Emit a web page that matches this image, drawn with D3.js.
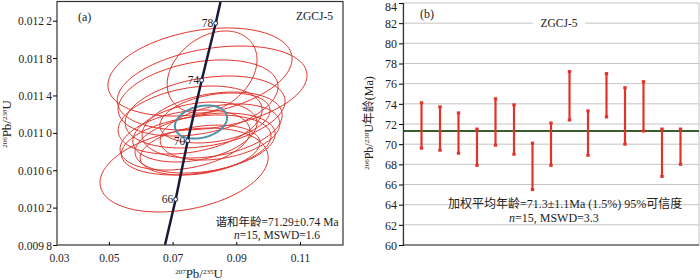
<!DOCTYPE html>
<html>
<head>
<meta charset="utf-8">
<script src="https://cdn.jsdelivr.net/npm/d3@7"></script>
<style>
  body { margin: 0; background: #fff; }
  text { font-family: "Liberation Serif", "Noto Sans CJK SC", serif; fill: #222; }
</style>
</head>
<body>
<script>
const width = 700, height = 280;

// ---- panel (a): concordia data ----
// error ellipses: centre, half width / height (data units)
const ellX  = [0.0786, 0.0824, 0.0824, 0.0780, 0.0802, 0.0755, 0.0824, 0.0770, 0.0849, 0.0739, 0.0802, 0.0786, 0.0833, 0.0736, 0.0774];
const ellY  = [0.011651, 0.011651, 0.011480, 0.011373, 0.011223, 0.011137, 0.011084, 0.011009, 0.011009, 0.010923, 0.010891, 0.010816, 0.011159, 0.010602, 0.010870];
const ellSx = [0.0289, 0.0141, 0.0298, 0.0251, 0.0251, 0.0226, 0.0220, 0.0195, 0.0188, 0.0204, 0.0220, 0.0188, 0.0173, 0.0264, 0.0235];
const ellSy = [0.000471, 0.000439, 0.000449, 0.000407, 0.000385, 0.000364, 0.000353, 0.000321, 0.000300, 0.000321, 0.000321, 0.000267, 0.000267, 0.000449, 0.000321];
const ellRho = 0.3;
// mean ellipse
const meanEll = { x: 0.0789, y: 0.011116, sx: 0.0082, sy: 0.000177 };
// concordia curve and age marks
const concX = [0.0676, 0.07097, 0.07474, 0.07913, 0.08353, 0.08503];
const concY = [0.0098, 0.010289, 0.010916, 0.011562, 0.012172, 0.0124];
const markAge = [66, 70, 74, 78];
const markX = [0.07097, 0.07474, 0.07913, 0.08353];
const markY = [0.010289, 0.010916, 0.011562, 0.012172];
const aYTicks = [0.0098, 0.0102, 0.0106, 0.0110, 0.0114, 0.0118, 0.0122];
const aXTicks = [0.0337, 0.05, 0.07, 0.09, 0.11];

// ---- panel (b): weighted mean ages ----
const spotNo  = [1, 2, 3, 4, 5, 6, 7, 8, 9, 10, 11, 12, 13, 14, 15];
const ageHigh = [74.1, 73.7, 73.1, 71.5, 74.5, 73.9, 70.1, 72.1, 77.2, 73.3, 77.0, 75.6, 76.2, 71.5, 71.5];
const ageLow  = [69.6, 69.4, 69.1, 67.9, 69.9, 69.0, 65.5, 67.9, 72.4, 68.9, 72.7, 70.0, 71.3, 66.8, 68.0];
const meanAge = 71.3;
const bYTicks = d3.range(60, 85, 2);

const svg = d3.select('body').append('svg')
    .attr('width', width)
    .attr('height', height);

const red = '#e2332b';

// ================= panel (a) =================
const xA = d3.scaleLinear().domain([0.0337, 0.1235]).range([57, 343]);
const yA = d3.scaleLinear().domain([0.0098, 0.0124]).range([245, 2]);

svg.append('defs').append('clipPath').attr('id', 'clipA')
    .append('rect').attr('x', 57).attr('y', 2).attr('width', 286).attr('height', 243);

const ellipsePath = (cx, cy, sx, sy, rho) => {
    const pts = d3.range(0, 2 * Math.PI + 0.01, Math.PI / 60).map(t => [
        xA(cx + sx * Math.cos(t)),
        yA(cy + sy * (rho * Math.cos(t) + Math.sqrt(1 - rho * rho) * Math.sin(t)))
    ]);
    return d3.line()(pts) + 'Z';
};

const plotA = svg.append('g').attr('clip-path', 'url(#clipA)');

plotA.selectAll('.ell')
    .data(ellX)
    .enter()
    .append('path')
    .attr('class', 'ell')
    .attr('d', (d, i) => ellipsePath(ellX[i], ellY[i], ellSx[i], ellSy[i], ellRho))
    .attr('fill', 'none')
    .attr('stroke', red)
    .attr('stroke-width', 1);

plotA.append('path')
    .attr('d', ellipsePath(meanEll.x, meanEll.y, meanEll.sx, meanEll.sy, 0.25))
    .attr('fill', 'none')
    .attr('stroke', '#4f93ab')
    .attr('stroke-width', 2);

plotA.append('path')
    .attr('d', d3.line().x((d, i) => xA(concX[i])).y((d, i) => yA(concY[i]))(concX))
    .attr('fill', 'none')
    .attr('stroke', '#1c1838')
    .attr('stroke-width', 2.5);

plotA.selectAll('.mark')
    .data(markAge)
    .enter()
    .append('circle')
    .attr('cx', (d, i) => xA(markX[i]))
    .attr('cy', (d, i) => yA(markY[i]))
    .attr('r', 2)
    .attr('fill', '#fff')
    .attr('stroke', '#1c1838')
    .attr('stroke-width', 1);

plotA.selectAll('.markLabel')
    .data(markAge)
    .enter()
    .append('text')
    .attr('x', (d, i) => xA(markX[i]) - 2.5)
    .attr('y', (d, i) => yA(markY[i]) + 4)
    .attr('text-anchor', 'end')
    .style('font-size', '11.5px')
    .text(d => d);

// frame
svg.append('rect')
    .attr('x', 57).attr('y', 1.5).attr('width', 286).attr('height', 243.5)
    .attr('fill', 'none').attr('stroke', '#333').attr('stroke-width', 1.2);

const fmtA = d => { const s = d3.format('.4f')(d); return s.slice(0, 5) + '\u2009' + s.slice(5); };
const yAxisA = svg.append('g')
    .attr('transform', 'translate(57,0)')
    .call(d3.axisLeft(yA).tickValues(aYTicks).tickSize(4).tickFormat(fmtA));
yAxisA.select('.domain').remove();
yAxisA.selectAll('text').style('font-size', '11.5px').attr('x', -5).attr('dy', '0.35em');

const xAxisA = svg.append('g')
    .attr('transform', 'translate(0,245)')
    .call(d3.axisBottom(xA).tickValues(aXTicks).tickSize(-3)
        .tickFormat(d => d < 0.04 ? '0.03' : d3.format('.2f')(d)));
xAxisA.select('.domain').remove();
xAxisA.selectAll('text').style('font-size', '11.5px').attr('y', 9).attr('dy', '0.71em');
xAxisA.selectAll('.tick').filter(d => d < 0.04).select('line').remove();
xAxisA.selectAll('.tick').filter(d => d < 0.04).select('text').attr('x', 2);

svg.append('text').attr('x', 78).attr('y', 21).style('font-size', '12px').text('(a)');
svg.append('text').attr('x', 333).attr('y', 20).attr('text-anchor', 'end').style('font-size', '11.5px').text('ZGCJ-5');

const resultA = svg.append('g').style('font-size', '11.5px');
resultA.append('text').attr('x', 277).attr('y', 226).attr('text-anchor', 'middle').text('谐和年龄=71.29±0.74 Ma');
const nA = resultA.append('text').attr('x', 277).attr('y', 239).attr('text-anchor', 'middle');
nA.append('tspan').style('font-style', 'italic').text('n');
nA.append('tspan').text('=15, MSWD=1.6');

// axis titles (a)
const yTitleA = svg.append('text')
    .attr('transform', 'translate(11,124) rotate(-90)')
    .attr('text-anchor', 'middle')
    .style('font-size', '13px');
yTitleA.append('tspan').attr('baseline-shift', 'super').style('font-size', '7px').text('206');
yTitleA.append('tspan').text('Pb/');
yTitleA.append('tspan').attr('baseline-shift', 'super').style('font-size', '7px').text('238');
yTitleA.append('tspan').text('U');

const xTitleA = svg.append('text')
    .attr('x', 199).attr('y', 278)
    .attr('text-anchor', 'middle')
    .style('font-size', '13px');
xTitleA.append('tspan').attr('baseline-shift', 'super').style('font-size', '7px').text('207');
xTitleA.append('tspan').text('Pb/');
xTitleA.append('tspan').attr('baseline-shift', 'super').style('font-size', '7px').text('235');
xTitleA.append('tspan').text('U');

// ================= panel (b) =================
const xB = d3.scaleLinear().domain([0, 16]).range([403, 699]);
const yB = d3.scaleLinear().domain([60, 84]).range([245, 3]);

svg.append('g').selectAll('line')
    .data(bYTicks.filter(d => d > 60 && d < 84))
    .enter()
    .append('line')
    .attr('x1', 403).attr('x2', 699)
    .attr('y1', d => yB(d)).attr('y2', d => yB(d))
    .attr('stroke', '#c4c4c4').attr('stroke-width', 1);

svg.append('rect')
    .attr('x', 403).attr('y', yB(84)).attr('width', 296).attr('height', yB(60) - yB(84))
    .attr('fill', 'none').attr('stroke', '#c4c4c4').attr('stroke-width', 1);

// label over the grid line
svg.append('rect').attr('x', 533).attr('y', 16).attr('width', 52).attr('height', 14).attr('fill', '#fff');
svg.append('text').attr('x', 559).attr('y', 27).attr('text-anchor', 'middle').style('font-size', '11.5px').text('ZGCJ-5');
svg.append('text').attr('x', 420).attr('y', 18).style('font-size', '12px').text('(b)');

svg.append('line')
    .attr('x1', 403).attr('x2', 699)
    .attr('y1', yB(meanAge)).attr('y2', yB(meanAge))
    .attr('stroke', '#3b5f2c').attr('stroke-width', 2);

const bars = svg.append('g');
bars.selectAll('.bar')
    .data(spotNo)
    .enter()
    .append('line')
    .attr('x1', d => xB(d)).attr('x2', d => xB(d))
    .attr('y1', (d, i) => yB(ageHigh[i])).attr('y2', (d, i) => yB(ageLow[i]))
    .attr('stroke', red).attr('stroke-width', 2.2);
bars.selectAll('.capHi')
    .data(spotNo)
    .enter()
    .append('rect')
    .attr('x', d => xB(d) - 1.7).attr('y', (d, i) => yB(ageHigh[i]) - 1.5)
    .attr('width', 3.4).attr('height', 3).attr('fill', red);
bars.selectAll('.capLo')
    .data(spotNo)
    .enter()
    .append('rect')
    .attr('x', d => xB(d) - 1.7).attr('y', (d, i) => yB(ageLow[i]) - 1.5)
    .attr('width', 3.4).attr('height', 3).attr('fill', red);

const yAxisB = svg.append('g')
    .attr('transform', 'translate(403,0)')
    .call(d3.axisLeft(yB).tickValues(bYTicks).tickSize(4).tickFormat(d3.format('d')));
yAxisB.select('.domain').attr('stroke', '#333').attr('stroke-width', 1.2);
yAxisB.selectAll('text').style('font-size', '12px').attr('x', -6).attr('dy', '0.35em');
// top label would be cut at the edge, nudge it down
yAxisB.selectAll('.tick').filter(d => d === 84).select('text').attr('dy', '0.62em');

svg.append('line').attr('x1', 403).attr('x2', 699).attr('y1', 245).attr('y2', 245)
    .attr('stroke', '#333').attr('stroke-width', 1.2);

const resultB = svg.append('g').style('font-size', '12px');
resultB.append('text').attr('x', 448).attr('y', 208).text('加权平均年龄=71.3±1.1Ma (1.5%) 95%可信度');
const nB = resultB.append('text').attr('x', 509).attr('y', 222);
nB.append('tspan').style('font-style', 'italic').text('n');
nB.append('tspan').text('=15, MSWD=3.3');

const yTitleB = svg.append('text')
    .attr('transform', 'translate(373,123) rotate(-90)')
    .attr('text-anchor', 'middle')
    .style('font-size', '12px');
yTitleB.append('tspan').attr('baseline-shift', 'super').style('font-size', '7px').text('206');
yTitleB.append('tspan').text('Pb/');
yTitleB.append('tspan').attr('baseline-shift', 'super').style('font-size', '7px').text('238');
yTitleB.append('tspan').text('U年龄(Ma)');
</script>
</body>
</html>
